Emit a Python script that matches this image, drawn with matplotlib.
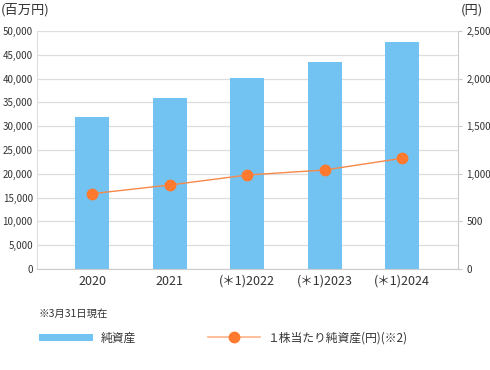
import matplotlib
matplotlib.use("Agg")
import matplotlib.pyplot as plt
from matplotlib.lines import Line2D
from matplotlib.patches import Patch

plt.rcParams['font.family'] = ['Noto Sans CJK JP', 'DejaVu Sans']

categories = ["2020", "2021", "(＊1)2022", "(＊1)2023", "(＊1)2024"]
net_assets = [31900, 35900, 40200, 43550, 47700]
bps = [791, 882, 987, 1040, 1163]
left_ticks = list(range(0, 50001, 5000))
right_ticks = [0, 500, 1000, 1500, 2000, 2500]

bar_color = "#73c3f2"
line_color = "#f7894a"
marker_color = "#ff7a2e"

fig = plt.figure(figsize=(4.9, 3.7), dpi=100)
ax = fig.add_axes([37/490, 1 - 269/370, (458-37)/490, (269-31)/370])
x = list(range(len(categories)))
ax.bar(x, net_assets, width=0.44, color=bar_color, zorder=2)
ax.set_xlim(-0.71, 4.72)
ax.set_ylim(0, 50000)
ax.set_yticks(left_ticks)
ax.set_yticklabels([f"{v:,}" for v in left_ticks], fontsize=7, color="#333333")
ax.set_xticks(x)
ax.set_xticklabels(categories, fontsize=9, color="#333333")
ax.tick_params(axis='y', length=0, pad=3)
ax.tick_params(axis='x', length=0, pad=4)
ax.grid(axis='y', color="#dddddd", linewidth=0.9, zorder=0)
for s in ['top', 'right']:
    ax.spines[s].set_visible(False)
ax.spines['left'].set_color("#dddddd")
ax.spines['bottom'].set_color("#cccccc")

ax2 = ax.twinx()
ax2.plot(x, bps, color=line_color, linewidth=1.0, marker='o', markersize=7.5,
         markerfacecolor=marker_color, markeredgecolor=marker_color, zorder=3)
ax2.set_ylim(0, 2500)
ax2.set_yticks(right_ticks)
ax2.set_yticklabels([f"{v:,}" for v in right_ticks], fontsize=7, color="#333333")
ax2.tick_params(axis='y', length=3, color="#cccccc", pad=3)
for s in ['top', 'left', 'bottom']:
    ax2.spines[s].set_visible(False)
ax2.spines['right'].set_color("#cccccc")

fig.text(1/490, 1 - 10/370, "(百万円)", fontsize=9.5, color="#333333", va='center', ha='left')
fig.text(461/490, 1 - 10/370, "(円)", fontsize=9.5, color="#333333", va='center', ha='left')
fig.text(39/490, 1 - 314/370, "※3月31日現在", fontsize=7.5, color="#333333", va='center', ha='left')

handles = [Patch(facecolor=bar_color, edgecolor='none'),
           Line2D([0], [0], color="#ffb58a", linewidth=1.2, marker='o', markersize=7.5,
                  markerfacecolor=marker_color, markeredgecolor=marker_color)]
leg1 = fig.legend([handles[0]], ["純資産"], loc='center left',
                  bbox_to_anchor=(28/490, 1 - 338/370), frameon=False, fontsize=8.5,
                  handlelength=4.6, handleheight=0.5, handletextpad=0.7)
leg2 = fig.legend([handles[1]], ["１株当たり純資産(円)(※2)"], loc='center left',
                  bbox_to_anchor=(197/490, 1 - 338/370), frameon=False, fontsize=8.5,
                  handlelength=4.4, handletextpad=0.6)
for t in leg1.get_texts() + leg2.get_texts():
    t.set_color("#333333")

fig.savefig("out.png", dpi=100)
